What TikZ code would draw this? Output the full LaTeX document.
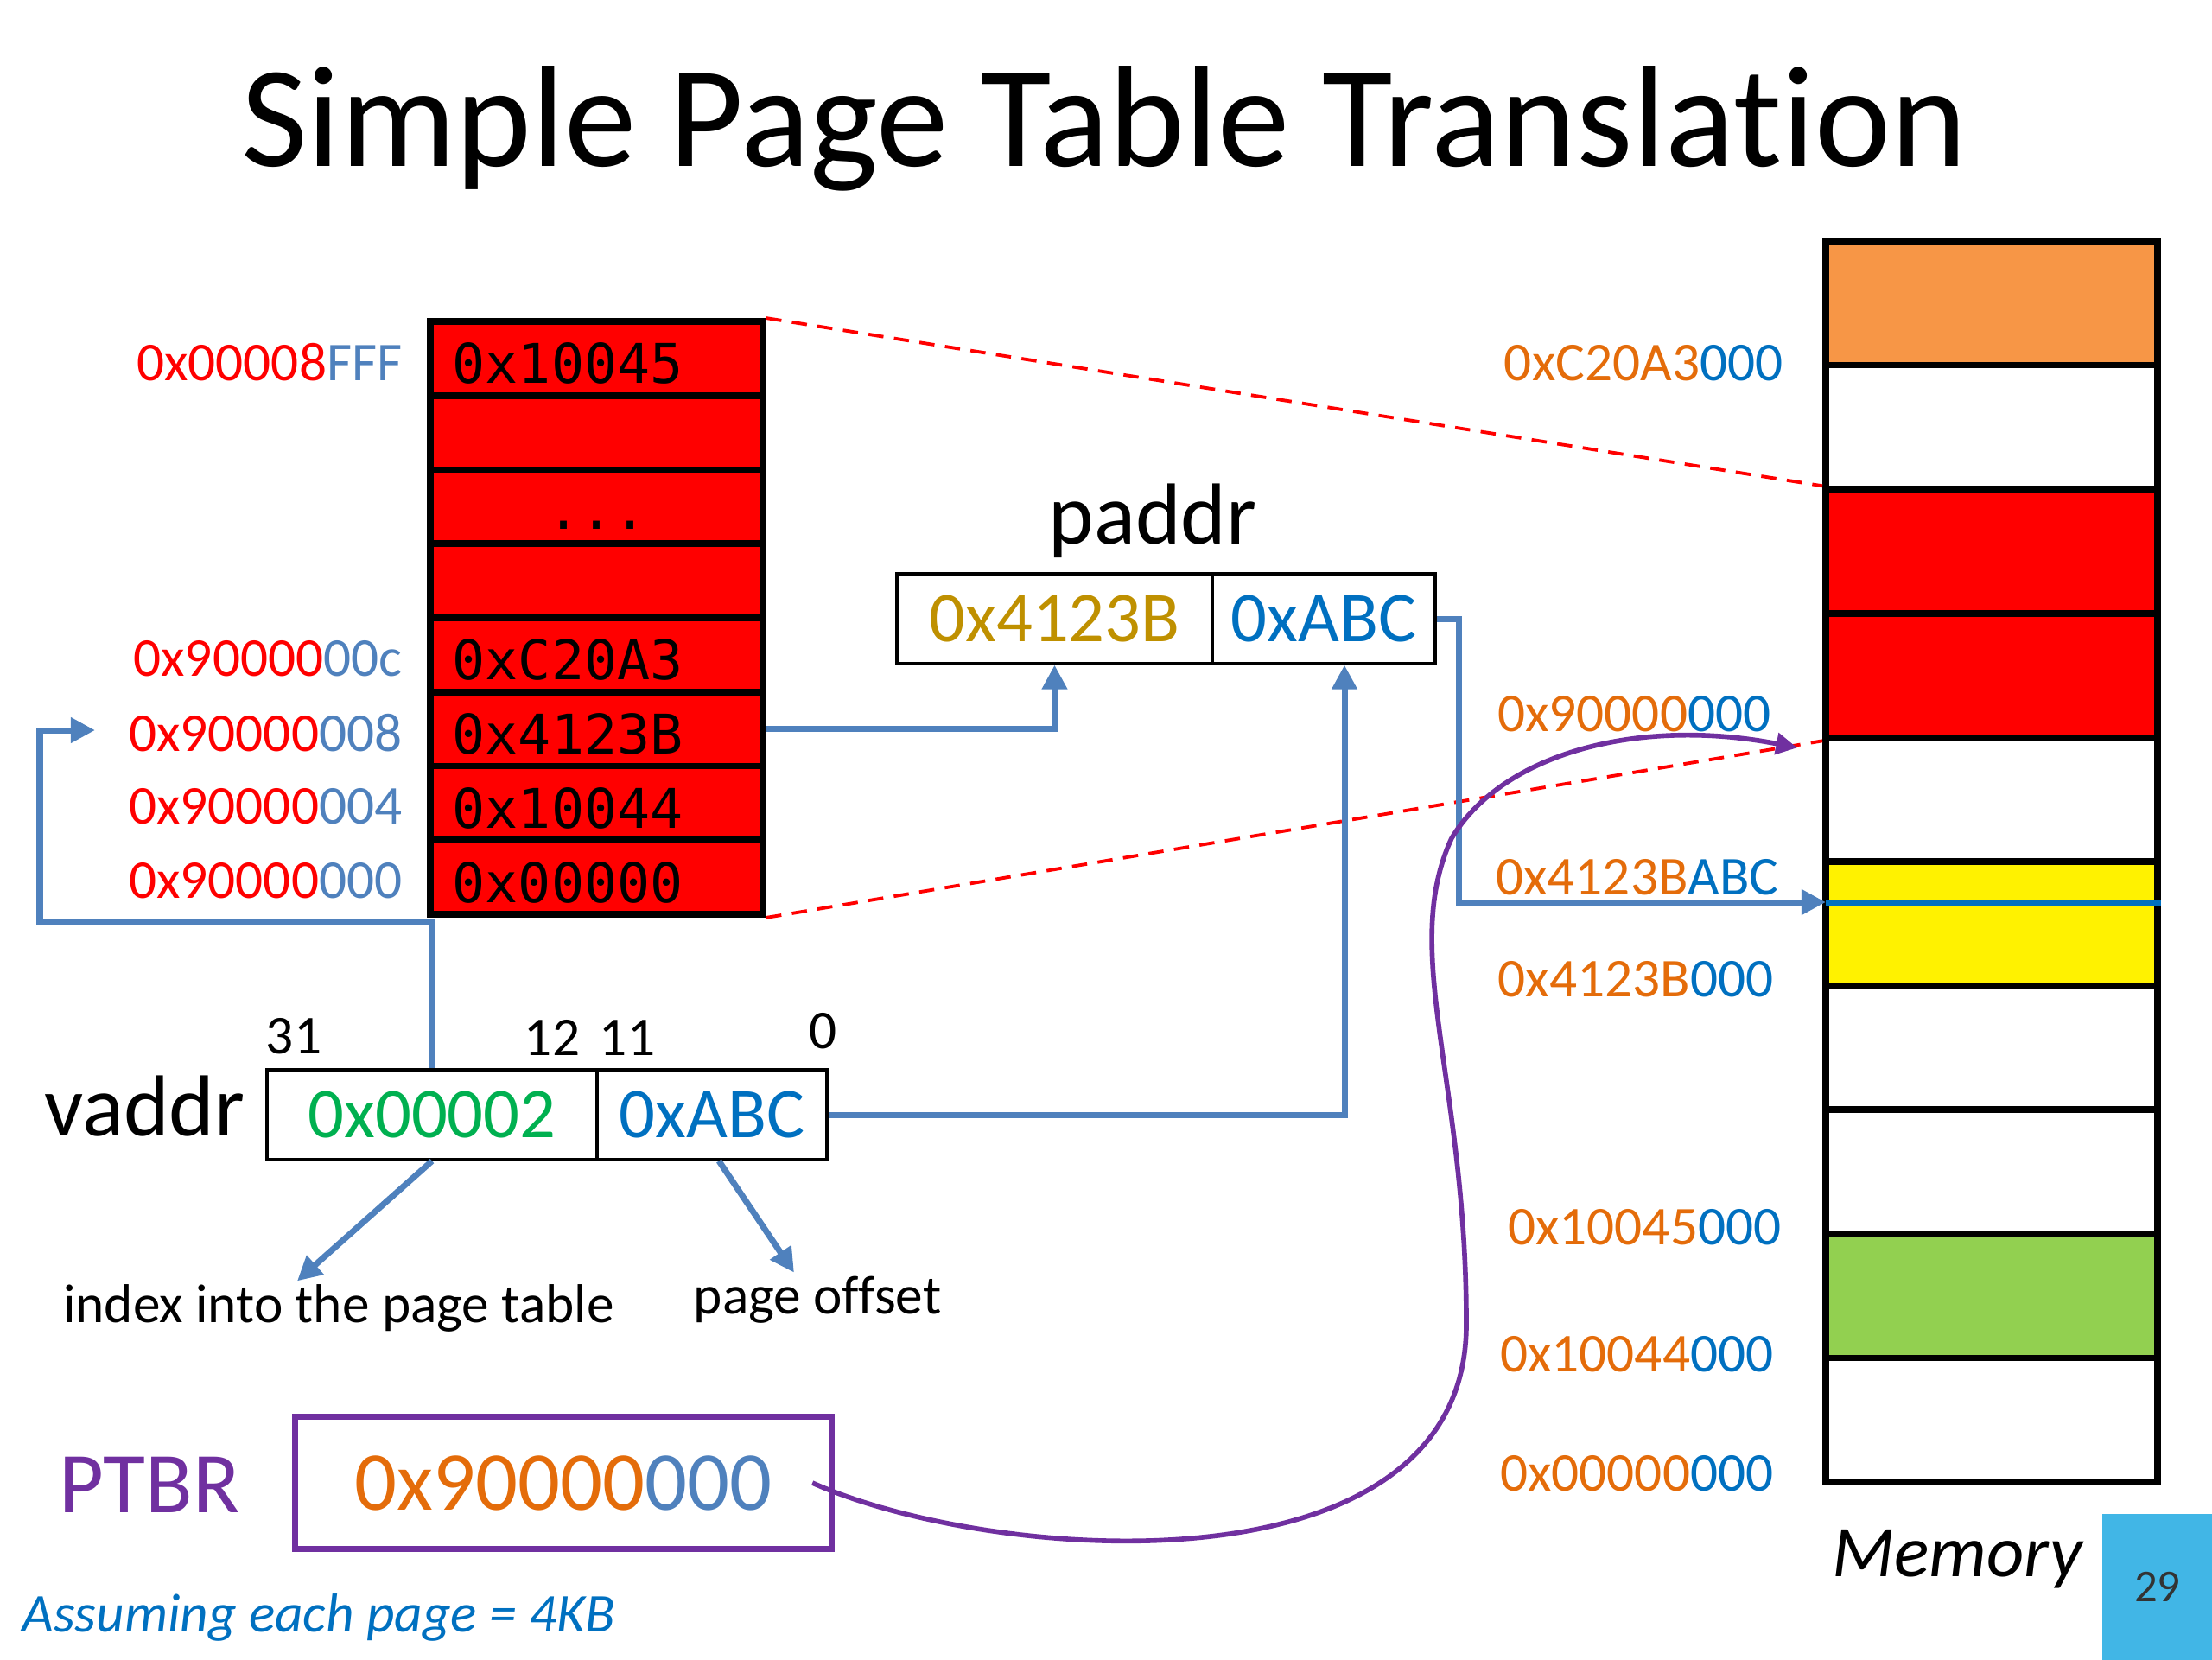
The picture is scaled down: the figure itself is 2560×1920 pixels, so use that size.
\documentclass[tikz,border=0pt]{standalone}
\usepackage{fontspec}
\setmainfont{Carlito}[Ligatures=NoCommon]
\newfontfamily\monofont{DejaVu Sans Mono}
\usetikzlibrary{arrows.meta}
\definecolor{ptred}{HTML}{FF0000}
\definecolor{lowblue}{HTML}{4F81BD}
\definecolor{offblue}{HTML}{0070C0}
\definecolor{pfngold}{HTML}{BF9000}
\definecolor{idxgreen}{HTML}{00B050}
\definecolor{ptbrpurple}{HTML}{7030A0}
\definecolor{addrorange}{HTML}{E46C0A}
\definecolor{memorange}{HTML}{F79646}
\definecolor{memgreen}{HTML}{92D050}
\definecolor{slideblue}{HTML}{41B6E6}
\definecolor{numgray}{HTML}{333333}
\def\fsz#1{\fontsize{#1}{#1}\selectfont}
\tikzset{
	ptrow/.style={draw=black, line width=2.2pt, fill=ptred, minimum width=3.85cm, minimum height=0.8575cm, inner sep=0pt},
	ptval/.style={font=\monofont\fsz{18}, anchor=west, inner sep=0pt},
	ptaddr/.style={font=\fsz{18}, anchor=east, inner sep=0pt},
	memblk/.style={draw=black, line width=2.2pt, minimum width=3.84cm, minimum height=1.436cm, inner sep=0pt},
	memaddr/.style={font=\fsz{18}, anchor=east, inner sep=0pt},
	addrcell/.style={draw=black, line width=1pt, minimum height=1.035cm, inner sep=0pt, font=\fsz{23.5}},
	bigname/.style={font=\fsz{28.5}, inner sep=0pt},
	bitnum/.style={font=\fsz{18}, inner sep=0pt},
	note/.style={font=\fsz{18}, inner sep=1pt},
	transl/.style={draw=lowblue, line width=2pt, -{Triangle[length=8pt,width=8pt]}},
	ptbrlink/.style={draw=ptbrpurple, line width=1.6pt, -{Triangle[length=7pt,width=7pt]}},
	pagemap/.style={draw=ptred, line width=1.1pt, dash pattern=on 5pt off 3.5pt},
}

\begin{document}
\begin{tikzpicture}[x=0.01cm, y=-0.01cm]
		%%%%% START %%%%%
		\useasboundingbox (0,0) rectangle (2560,1920);
		
		\node[font=\fsz{47.5}, anchor=base, inner sep=0pt] (title) at (1278,192) {Simple Page Table Translation};
		
		% memory
		\foreach \c [count=\i] in {memorange,white,ptred,ptred,white,yellow,white,white,memgreen,white}
			\node[memblk, fill=\c] (mem\i) at (2305, {279+(\i-0.5)*143.6}) {};
		\coordinate (hit) at (2113,1044);
		\draw[offblue, line width=2pt] (hit) -- (hit -| mem6.east);
		\foreach \x/\y/\hi/\lo [count=\i] in {2064/420/0xC20A3/000, 2050/826/0x90000/000, 2059/1015/0x4123B/ABC, 2053/1133/0x4123B/000, 2062/1420/0x10045/000, 2053/1567/0x10044/000, 2053/1705/0x00000/000}
			\node[memaddr] (ma\i) at (\x,\y) {\textcolor{addrorange}{\hi}\textcolor{offblue}{\lo}};
		\node[font=\itshape\fsz{24}, anchor=base, inner sep=0pt] (memname) at (2265,1824) {Memory};
		\node[fill=slideblue, minimum width=1.28cm, minimum height=1.69cm, inner sep=0pt, anchor=north west, font=\fsz{15}, text=numgray] (slideno) at (2432,1751) {29};
		
		% page table
		\foreach \val [count=\i] in {0x10045,{},{},{},0xC20A3,0x4123B,0x10044,0x00000} {
			\node[ptrow] (pt\i) at (690.5, {372+(\i-0.5)*85.75}) {};
			\node[ptval] (ptv\i) at ([xshift=0.29cm, yshift=-0.06cm]pt\i.west) {\val};
		}
		\node[ptval, anchor=base] (ptdots) at (691,612) {...};
		\foreach \r/\hi/\lo in {1/0x00008/FFF, 5/0x90000/00c, 6/0x90000/008, 7/0x90000/004, 8/0x90000/000}
			\node[ptaddr] (pta\r) at ([xshift=-0.28cm, yshift=-0.04cm]pt\r.west) {\textcolor{ptred}{\hi}\textcolor{lowblue}{\lo}};
		
		\draw[pagemap] (pt1.north east) -- (mem3.north west);
		\draw[pagemap] (pt8.south east) -- (mem4.south west);
		
		% paddr
		\node[bigname] (pname) at (1334,603) {paddr};
		\node[addrcell, minimum width=3.65cm, text=pfngold] (pfn) at (1220.5,716) {0x4123B};
		\node[addrcell, minimum width=2.58cm, text=offblue] (poff) at (1532,716) {0xABC};
		
		% vaddr
		\node[bigname, anchor=east] (vname) at (284,1280) {vaddr};
		\node[addrcell, minimum width=3.82cm, text=idxgreen] (vidx) at (500,1290) {0x00002};
		\node[addrcell, minimum width=2.66cm, text=offblue] (voff) at (824,1290) {0xABC};
		\foreach \x/\y/\b in {340/1199/31, 639/1201/12, 726/1201/11, 953/1193/0}
			\node[bitnum] (bit\b) at (\x,\y) {\b};
		\node[note] (idxlbl) at (392,1514) {index into the page table};
		\node[note] (offlbl) at (946,1504) {page offset};
		
		% PTBR
		\node[bigname, text=ptbrpurple] (ptbrname) at (173,1718) {PTBR};
		\node[draw=ptbrpurple, line width=2pt, minimum width=6.21cm, minimum height=1.53cm, inner sep=0pt, font=\fsz{27.5}] (ptbr) at (652,1716) {\textcolor{addrorange}{0x90000}\textcolor{lowblue}{000}};
		\node[font=\itshape\fsz{18}, text=offblue, anchor=base west, inner sep=0pt] (assume) at (25,1888) {Assuming each page = 4KB};
		
		% translation
		\coordinate (ptentry) at (110,845);
		\draw[transl] (vidx.north) |- (46,1067) |- (ptentry);
		\draw[transl] (pt6.east) -| (pfn.south);
		\draw[transl] (voff.east) -| ([xshift=0.24cm]poff.south);
		\draw[transl] (poff.east) -- ++(26,0) |- (hit);
		\draw[transl] (vidx.south) -- ([xshift=-0.48cm]idxlbl.north);
		\draw[transl] ([xshift=0.08cm]voff.south) -- ([xshift=-0.27cm]offlbl.north);
		
		\coordinate (ptbrout) at ([xshift=-0.26cm]ptbr.east);
		\coordinate (ptbase) at ([xshift=-0.29cm, yshift=-0.08cm]mem4.south west);
		\draw[ptbrlink] (ptbrout) .. controls (1150,1810) and (1700,1850) .. (1697,1530) .. controls (1697,1250) and (1620,1100) .. (1680,970) .. controls (1740,870) and (1900,830) .. (ptbase);
		
		%%%%% END %%%%%
\end{tikzpicture}
\end{document}
